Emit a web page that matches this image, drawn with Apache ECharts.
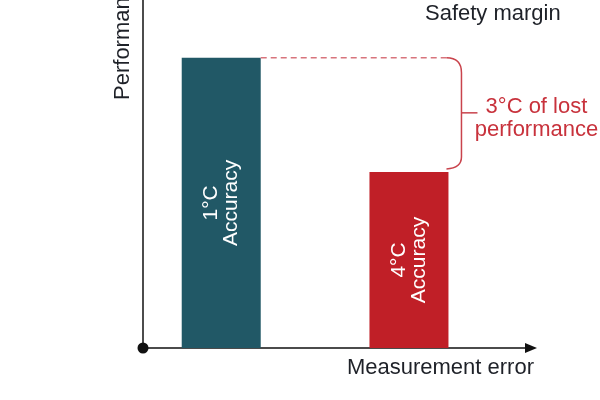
<!DOCTYPE html>
<html>
<head>
<meta charset="utf-8">
<script src="https://cdn.jsdelivr.net/npm/echarts@6/dist/echarts.min.js"></script>
<style>html,body{margin:0;padding:0;background:#fff;}#c{width:600px;height:400px;}</style>
</head>
<body>
<div id="c"></div>
<script>
// Data
var categories = ['1°C\nAccuracy', '4°C\nAccuracy'];
var errorValues = [1, 4];          // measurement error (°C)
var performance = [83.4, 50.6];    // relative performance
var barColors = ['#215866', '#c01f27'];
var annotationText = '3°C of lost\nperformance';
var titleText = 'Safety margin';

var FONT = '"Liberation Sans", Arial, sans-serif';
var RED = '#c8323c';

var chart = echarts.init(document.getElementById('c'));

var barData = errorValues.map(function (x, i) {
  return { value: [x, performance[i]], name: categories[i], itemStyle: { color: barColors[i] } };
});

var option = {
  animation: false,
  backgroundColor: '#fff',
  title: {
    text: titleText,
    left: 425, top: 3, padding: 0,
    textStyle: { fontFamily: FONT, fontSize: 22, fontWeight: 'normal', color: '#1e2128' }
  },
  grid: { left: 143, right: 69, top: 0, bottom: 52, containLabel: false, outerBoundsMode: 'none' },
  xAxis: {
    type: 'value', min: -0.25, max: 5.95,
    name: 'Measurement error', nameLocation: 'end', nameGap: 3,
    nameTextStyle: { fontFamily: FONT, fontSize: 22, color: '#1e2128', align: 'right', verticalAlign: 'top', padding: [9, 0, 0, 0] },
    axisLine: { show: true, onZero: false, symbol: ['none', 'triangle'], symbolSize: [10, 12], lineStyle: { color: '#111', width: 1.5 } },
    axisTick: { show: false }, axisLabel: { show: false }, splitLine: { show: false }
  },
  yAxis: {
    type: 'value', min: 0, max: 100,
    name: 'Performance', nameLocation: 'middle', nameRotate: 90, nameGap: 9,
    nameTextStyle: { fontFamily: FONT, fontSize: 22, color: '#1e2128', padding: [0, 0, 0, 274] },
    axisLine: { show: true, onZero: false, symbol: ['circle', 'none'], symbolSize: [11, 11], lineStyle: { color: '#111', width: 1.5 } },
    axisTick: { show: false }, axisLabel: { show: false }, splitLine: { show: false }
  },
  series: [
    {
      type: 'bar',
      data: barData,
      barWidth: 79,
      label: {
        show: true, position: 'inside', rotate: 90,
        formatter: function (p) { return p.name; },
        fontFamily: FONT, fontSize: 21, lineHeight: 20, color: '#fff'
      }
    },
    {
      type: 'custom',
      data: [[errorValues[0], performance[0], errorValues[1], performance[1]]],
      clip: false,
      z: 5,
      renderItem: function (params, api) {
        var p1 = api.coord([api.value(0), api.value(1)]);
        var p2 = api.coord([api.value(2), api.value(3)]);
        var half = 39.5;
        var xb = p2[0] + 52.5;
        var y1 = p1[1], y2 = p2[1];
        var ym = (y1 + y2) / 2 - 2;
        var r = 15;
        return {
          type: 'group',
          children: [
            { type: 'line', shape: { x1: p1[0] + half, y1: y1, x2: xb - r, y2: y1 },
              style: { stroke: '#d8747c', lineWidth: 1.5, lineDash: [6, 4] } },
            { type: 'path',
              shape: { pathData: 'M' + (xb - r) + ' ' + y1 + ' Q' + xb + ' ' + y1 + ' ' + xb + ' ' + (y1 + r) +
                ' L' + xb + ' ' + (y2 - r) + ' Q' + xb + ' ' + (y2 - 4) + ' ' + (p2[0] + half - 2) + ' ' + (y2 - 3) },
              style: { stroke: '#c9434c', lineWidth: 1.5, fill: null } },
            { type: 'line', shape: { x1: xb, y1: ym, x2: xb + 16, y2: ym },
              style: { stroke: '#c9434c', lineWidth: 1.5 } },
            { type: 'text', x: xb + 75, y: ym + 6,
              style: { text: annotationText, fontFamily: FONT, fontSize: 22, lineHeight: 23, fill: RED, align: 'center', verticalAlign: 'middle' } }
          ]
        };
      }
    }
  ]
};
chart.setOption(option);
</script>
</body>
</html>
